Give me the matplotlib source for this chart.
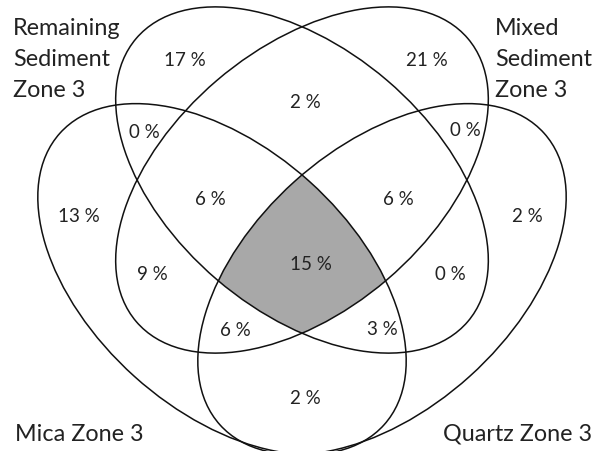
import numpy as np
import matplotlib
matplotlib.use('Agg')
import matplotlib.pyplot as plt
from matplotlib.patches import Ellipse, Polygon

plt.rcParams['font.family'] = ['Lato', 'DejaVu Sans']

# set names and region percentages
set_names = ['Remaining\nSediment\nZone 3', 'Mixed\nSediment\nZone 3', 'Mica Zone 3', 'Quartz Zone 3']
region_labels = ['17 %', '21 %', '2 %', '0 %', '0 %', '13 %', '6 %', '6 %', '2 %',
                 '9 %', '15 %', '0 %', '6 %', '3 %', '2 %']

W, H = 602, 452

# ellipse geometry (image pixels, y measured from top)
ell = [  # cx, cy, width, height, angle
    (302, 181, 436, 262, -40.5),   # Remaining
    (302, 181, 436, 262, 40.5),    # Mixed
    (222, 280, 436, 262, -42.0),   # Mica
    (382, 280, 436, 262, 42.0),    # Quartz
]
label_pos = [(185, 60), (427, 60), (305, 103), (144, 132), (465, 131), (79, 217),
             (210, 200), (398, 200), (527, 217), (152, 275), (311, 264), (450, 275),
             (235, 331), (382, 330), (305, 399)]
name_pos = [(13, 35), (495, 35), (15, 441), (443, 441)]  # baseline of first line

fig = plt.figure(figsize=(W / 100, H / 100), dpi=100)
ax = fig.add_axes([0, 0, 1, 1])
ax.set_xlim(0, W)
ax.set_ylim(0, H)
ax.set_aspect('equal')
ax.axis('off')


def inside(px, py, e):
    cx, cy, w, h, a = e
    cy = H - cy
    t = np.deg2rad(a)
    dx, dy = px - cx, py - cy
    xr = dx * np.cos(t) + dy * np.sin(t)
    yr = -dx * np.sin(t) + dy * np.cos(t)
    return (xr / (w / 2)) ** 2 + (yr / (h / 2)) ** 2 <= 1.0 + 1e-9


# shaded intersection of all four (convex), built from boundary points
pts = []
s = np.linspace(0, 2 * np.pi, 2000)
for i, e in enumerate(ell):
    cx, cy, w, h, a = e
    t = np.deg2rad(a)
    x = cx + w / 2 * np.cos(s) * np.cos(t) - h / 2 * np.sin(s) * np.sin(t)
    y = (H - cy) + w / 2 * np.cos(s) * np.sin(t) + h / 2 * np.sin(s) * np.cos(t)
    ok = np.ones_like(x, dtype=bool)
    for j, o in enumerate(ell):
        if j != i:
            ok &= inside(x, y, o)
    pts.append(np.column_stack([x[ok], y[ok]]))
pts = np.vstack(pts)
c = pts.mean(axis=0)
order = np.argsort(np.arctan2(pts[:, 1] - c[1], pts[:, 0] - c[0]))
ax.add_patch(Polygon(pts[order], closed=True, facecolor='#a8a8a8', edgecolor='none'))

for cx, cy, w, h, a in ell:
    ax.add_patch(Ellipse((cx, H - cy), w, h, angle=a, fill=False,
                         edgecolor='#111111', linewidth=1.1))

for txt, (x, y) in zip(region_labels, label_pos):
    ax.text(x, H - y, txt, ha='center', va='center', fontsize=13.5, color='#222222')

# set names, one text per line, ~31 px between baselines
for name, (x, y) in zip(set_names, name_pos):
    for k, line in enumerate(name.split('\n')):
        ax.text(x, H - y - 31 * k, line, ha='left', va='baseline', fontsize=16.8,
                color='#222222')

fig.savefig('out.png', dpi=100)
